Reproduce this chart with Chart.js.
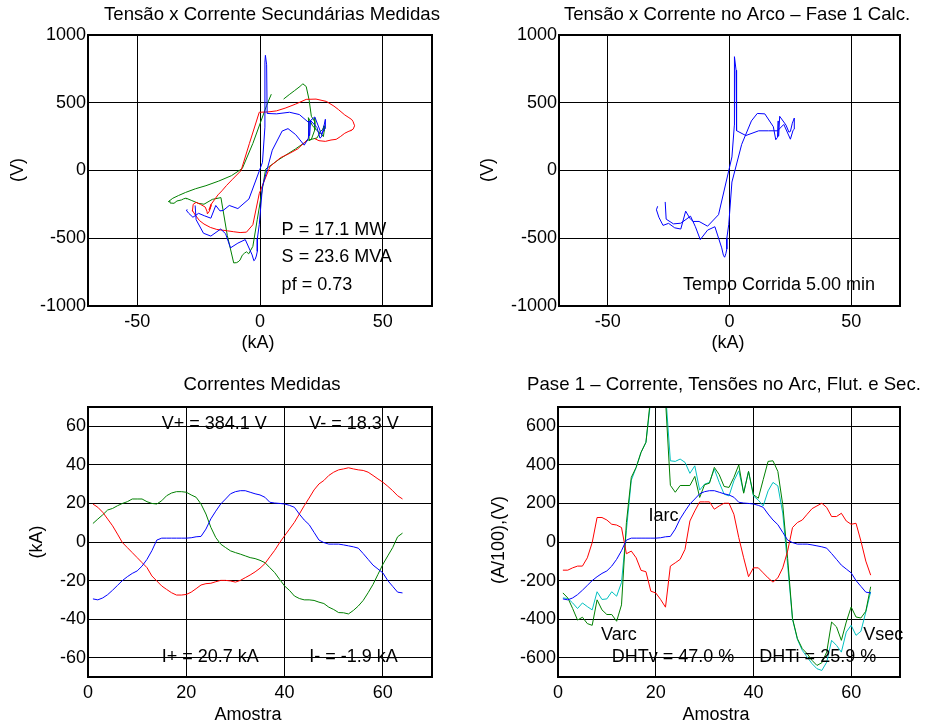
<!DOCTYPE html>
<html>
<head>
<meta charset="utf-8">
<script src="https://cdn.jsdelivr.net/npm/chart.js@4"></script>
<style>
  body { margin: 0; background: #fff; width: 926px; height: 725px; position: relative; overflow: hidden; }
  canvas { position: absolute; }
</style>
</head>
<body>
<canvas id="tl" width="463" height="362" style="left:0;top:0"></canvas>
<canvas id="tr" width="463" height="362" style="left:463px;top:0"></canvas>
<canvas id="bl" width="463" height="363" style="left:0;top:362px"></canvas>
<canvas id="br" width="463" height="363" style="left:463px;top:362px"></canvas>
<script>
// measured currents per sample (kA), phases 1..3
const iA = [-29.5, -30, -29, -27.3, -25, -22.5, -20, -18, -16.3, -15, -12.5, -9, -4.5, 1, 2, 2,
  2, 2, 2, 2, 2.2, 2.7, 2.9, 6.7, 12, 16, 19.7, 22.3, 25, 26.1, 26.6, 26.6,
  25.8, 25, 24.4, 23.2, 20.6, 20.2, 20, 19.7, 19, 18, 14.5, 11.4, 9, 5, 1, -0.3,
  -1.1, -1.1, -1.1, -1.5, -2, -2.5, -3.2, -6, -9, -12, -14, -16, -20, -23, -26, -26.4];
const iB = [19.7, 18, 15.4, 11.9, 8.4, 4.1, -0.3, -2.9, -5.5, -8.1, -10.7, -13.3, -17.6, -20.2, -22.8, -24.6,
  -26.3, -27.5, -27.5, -27.2, -26, -24.2, -22.3, -21.6, -21.4, -20.6, -19.9, -19.9, -20.2, -20.8, -19.9, -18.5,
  -17.1, -15.5, -13.6, -11.2, -7.7, -4.3, -0.3, 3.2, 6.7, 10.2, 14.5, 18.8, 22.8, 27, 30.1, 31.9,
  34.5, 36.2, 37.4, 37.9, 38.5, 37.9, 37.4, 37.1, 36.2, 34.5, 32.7, 31, 28.9, 26.6, 24, 22.3];
const iC = [9.6, 11.9, 14.1, 16.6, 17.4, 18.8, 20, 20.9, 22.3, 22.3, 22.3, 20.9, 20, 19.7, 21.4, 24,
  25.4, 26.1, 26.1, 25.8, 24.4, 23.2, 19.7, 14.5, 7.6, 2.3, -1.1, -2.9, -4.6, -5.5, -6.3, -7.2,
  -8.1, -8.6, -9.5, -10.7, -13.3, -15.9, -19.4, -22.8, -25.1, -28, -29.3, -30, -30, -30.3, -31.2, -31.9,
  -33.8, -35, -36.6, -36.7, -37.3, -35.5, -33.2, -30.3, -26.3, -22, -16.8, -11.6, -7.2, -2.9, 2.7, 4.6];

// secondary voltages (V)
const vSecA = [-290, -293, -316, -345, -316, -335, -352, -258, -298, -295, -258, -281, -210, 60, 320, 387,
  465, 517, 740, 800, 850, 780, 421, 418, 430, 413, 356, 395, 269, 300, 309, 378,
  309, 248, 239, 317, 369, 257, 366, 239, 217, 187, 265, 309, 291, 150, -120, -400,
  -505, -562, -597, -631, -657, -666, -623, -510, -536, -571, -467, -432, -484, -463, -363, -258];
const vSecB = [235, 205, 160, 125, 95, 30, -170, -400, -455, -458, -452, -445, -435, -420, -395, -370,
  -330, -295, -300, -250, -235, -250, -270, -300, -320, -300, -260, -250, -280, -290, -250, -215,
  -180, -150, -110, -65, 0, 200, 430, 432, 440, 460, 490, 525, 527, 510, 475, 450,
  410, 390, 375, 360, 330, 305, 300, 295, 290, 275, 250, 230, 225, 215, 220, 235];
const vSecC = [527, 560, 590, 625, 640, 620, 520, 400, 360, 390, 300, 230, 220, 390, 330, 280,
  300, 330, 290, 250, 280, 240, 225, 160, 80, 10, -360, -560, -615, -600, -610, -625,
  -660, -670, -680, -682, -480, -200, -213, -249, -242, -220, -210, -205, -210, -205, -210, -217,
  -225, -242, -240, -225, -230, -205, -185, -162, -135, -112, -78, -38, 15, 200, 480, 563];

// phase 1 arc voltage and flutuation voltage (V)
const vArc = [-264, -290, -345, -405, -390, -423, -432, -300, -352, -376, -376, -411, -326, 100, 335, 387,
  465, 517, 760, 820, 840, 740, 294, 258, 293, 293, 293, 340, 231, 297, 305, 387,
  349, 288, 283, 335, 400, 253, 366, 245, 227, 323, 418, 421, 366, 193, -85, -397,
  -501, -553, -579, -614, -640, -626, -571, -415, -440, -510, -415, -337, -389, -394, -359, -232];
const vFlut = [-146, -146, -134, -125, -125, -82, -3, 127, 127, 114, 92, 88, 75, -61, -47, -82,
  -147, -154, -255, -264, -298, -338, -125, -108, -90, -38, 109, 161, 208, 208, 208, 170,
  187, 201, 201, 144, 23, -82, -180, -134, -134, -160, -186, -208, -186, -134, -47, 75,
  101, 114, 144, 173, 187, 201, 179, 132, 132, 149, 109, 92, 97, 5, -99, -172];

const ticksKA = [-50, 0, 50];
const ticksV = [-1000, -500, 0, 500, 1000];
const ticksSample = [0, 20, 40, 60];
const ticksCur = [-60, -40, -20, 0, 20, 40, 60];
const ticksMix = [-600, -400, -200, 0, 200, 400, 600];

const FAMILY = '"Liberation Sans", Arial, sans-serif';
const BLUE = '#0000ff', RED = '#ff0000', GREEN = '#008000', CYAN = '#00c0c0';

function pairs(xs, ys) { return xs.map((x, i) => ({ x: x, y: ys[i] })); }
function bySample(ys) { return ys.map((y, i) => ({ x: i + 1, y: y })); }
function iarc(ys) { return ys.map(v => v * 10); } // kA -> A/100

function line(data, color) {
  return { data: data, borderColor: color, borderWidth: 1, pointRadius: 0, showLine: true, fill: false, tension: 0 };
}

function axis(min, max, ticks, size, isX) {
  return {
    type: 'linear', min: min, max: max,
    afterBuildTicks: s => { s.ticks = ticks.map(v => ({ value: v })); },
    afterFit: s => { if (isX) s.height = size; else s.width = size; },
    grid: { color: '#000', lineWidth: 1, drawTicks: false },
    border: { display: false },
    ticks: { color: '#000', font: { family: FAMILY, size: 18 }, padding: isX ? 5 : 2,
             autoSkip: false, maxRotation: 0, callback: v => String(v) }
  };
}

function decor(cfg) {
  return {
    id: 'decor',
    afterDraw(chart) {
      const ctx = chart.ctx, a = chart.chartArea, sx = chart.scales.x, sy = chart.scales.y;
      ctx.save();
      ctx.strokeStyle = '#000';
      ctx.lineWidth = 2;
      ctx.strokeRect(a.left, a.top, a.right - a.left, a.bottom - a.top);
      ctx.fillStyle = '#000';
      ctx.textBaseline = 'middle';
      ctx.textAlign = 'center';
      ctx.font = '18.6px ' + FAMILY;
      ctx.fillText(cfg.title[0], cfg.title[1], cfg.title[2]);
      ctx.font = '18px ' + FAMILY;
      ctx.fillText(cfg.xLabel[0], cfg.xLabel[1], cfg.xLabel[2]);
      ctx.save();
      ctx.translate(cfg.yLabel[1], cfg.yLabel[2]);
      ctx.rotate(-Math.PI / 2);
      ctx.fillText(cfg.yLabel[0], 0, 0);
      ctx.restore();
      ctx.textAlign = 'left';
      cfg.notes.forEach(n => ctx.fillText(n[0], sx.getPixelForValue(n[1]), sy.getPixelForValue(n[2])));
      ctx.restore();
    }
  };
}

function make(id, datasets, sx, sy, pad, cfg) {
  new Chart(document.getElementById(id), {
    type: 'scatter',
    data: { datasets: datasets },
    options: {
      responsive: false, animation: false, devicePixelRatio: 1,
      layout: { padding: pad },
      plugins: { legend: { display: false }, tooltip: { enabled: false } },
      scales: { x: sx, y: sy }
    },
    plugins: [decor(cfg)]
  });
}

make('tl',
  [line(pairs(iA, vSecA), BLUE), line(pairs(iB, vSecB), RED), line(pairs(iC, vSecC), GREEN)],
  axis(-70, 70, ticksKA, 56, true), axis(-1000, 1000, ticksV, 88, false),
  { left: 0, top: 35, right: 31, bottom: 0 },
  { title: ['Tensão x Corrente Secundárias Medidas', 272, 15],
    xLabel: ['(kA)', 258, 343], yLabel: ['(V)', 18, 170],
    notes: [['P = 17.1 MW', 8.8, -439], ['S = 23.6 MVA', 8.8, -636], ['pf = 0.73', 8.8, -845]] });

make('tr',
  [line(pairs(iA, vArc), BLUE)],
  axis(-70, 70, ticksKA, 56, true), axis(-1000, 1000, ticksV, 96, false),
  { left: 0, top: 35, right: 26, bottom: 0 },
  { title: ['Tensão x Corrente no Arco – Fase 1 Calc.', 274, 15],
    xLabel: ['(kA)', 265, 343], yLabel: ['(V)', 25, 170],
    notes: [['Tempo Corrida 5.00 min', -19.1, -845]] });

make('bl',
  [line(bySample(iA), BLUE), line(bySample(iB), RED), line(bySample(iC), GREEN)],
  axis(0, 70, ticksSample, 48, true), axis(-70, 70, ticksCur, 88, false),
  { left: 0, top: 45, right: 31, bottom: 0 },
  { title: ['Correntes Medidas', 262, 23],
    xLabel: ['Amostra', 248, 353], yLabel: ['(kA)', 37, 180],
    notes: [['V+ = 384.1 V', 15, 61], ['V- = 18.3 V', 45, 61],
            ['I+ = 20.7 kA', 15, -59.7], ['I- = -1.9 kA', 45, -59.7]] });

make('br',
  [line(bySample(iarc(iA)), BLUE), line(bySample(vFlut), RED), line(bySample(vArc), GREEN), line(bySample(vSecA), CYAN)],
  axis(0, 70, ticksSample, 48, true), axis(-700, 700, ticksMix, 95, false),
  { left: 0, top: 45, right: 26, bottom: 0 },
  { title: ['Pase 1 – Corrente, Tensões no Arc, Flut. e Sec.', 261, 23],
    xLabel: ['Amostra', 253, 353], yLabel: ['(A/100),(V)', 36, 178],
    notes: [['Iarc', 18.5, 135], ['Varc', 8.8, -480], ['Vsec', 62.5, -480],
            ['DHTv = 47.0 %', 11, -597], ['DHTi = 25.9 %', 41.2, -597]] });
</script>
</body>
</html>
